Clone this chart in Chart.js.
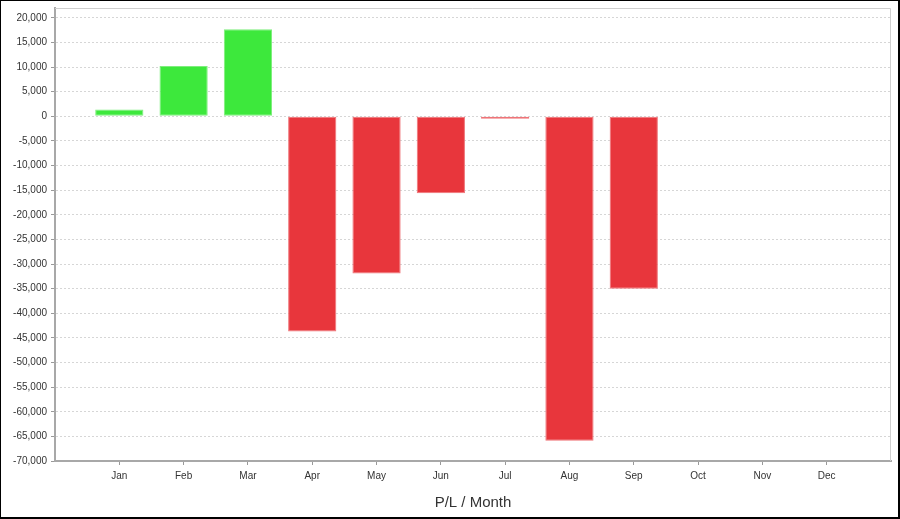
<!DOCTYPE html>
<html>
<head>
<meta charset="utf-8">
<script src="https://cdn.jsdelivr.net/npm/chart.js@4"></script>
<style>
  html, body { margin: 0; padding: 0; background: #fff; }
  #wrap {
    position: absolute; left: 0; top: 0;
    width: 900px; height: 519px;
    box-sizing: border-box;
    border: 1px solid #000;
    border-width: 1px 2px 2px 1px;
  }
</style>
</head>
<body>
<div id="wrap"><canvas id="chart"></canvas></div>
<script>
// data
const months = ['Jan', 'Feb', 'Mar', 'Apr', 'May', 'Jun', 'Jul', 'Aug', 'Sep', 'Oct', 'Nov', 'Dec'];
const profitLoss = [1400, 10200, 17700, -43700, -31900, -15600, -500, -65900, -35000, null, null, null];
const yTicks = [-70000, -65000, -60000, -55000, -50000, -45000, -40000, -35000, -30000,
    -25000, -20000, -15000, -10000, -5000, 0, 5000, 10000, 15000, 20000];
const yMin = -70000;
const yMax = 22000;

const GREEN = '#3de83c';
const RED = '#e8363c';

// pad the category axis by one empty slot at each end
const labels = [''].concat(months, ['']);
const values = [null].concat(profitLoss, [null]);

// light frame round the plot area (top and right)
const plotFrame = {
    id: 'plotFrame',
    beforeDatasetsDraw(chart) {
        const a = chart.chartArea;
        const ctx = chart.ctx;
        ctx.save();
        ctx.strokeStyle = '#cfcfcf';
        ctx.lineWidth = 1;
        ctx.beginPath();
        ctx.moveTo(a.left, a.top + 0.5);
        ctx.lineTo(a.right - 0.5, a.top + 0.5);
        ctx.lineTo(a.right - 0.5, a.bottom);
        ctx.stroke();
        ctx.restore();
    }
};

new Chart(document.getElementById('chart'), {
    type: 'bar',
    data: {
        labels: labels,
        datasets: [{
            label: 'P/L',
            data: values,
            backgroundColor: values.map(v => v >= 0 ? GREEN : RED),
            borderColor: values.map(v => v >= 0 ? '#7eee7c' : '#ef7478'),
            borderWidth: 1,
            borderSkipped: false,
            categoryPercentage: 1,
            barPercentage: 0.75
        }]
    },
    options: {
        responsive: true,
        maintainAspectRatio: false,
        animation: false,
        layout: { padding: { top: 7, right: 7, left: 0, bottom: 0 } },
        plugins: {
            legend: { display: false },
            tooltip: { enabled: false }
        },
        scales: {
            x: {
                offset: false,
                grid: {
                    offset: false,
                    drawOnChartArea: false,
                    tickLength: 4,
                    tickColor: c => (c.tick && c.tick.label === '') ? 'rgba(0,0,0,0)' : '#999'
                },
                border: { color: '#a8a8a8', width: 2 },
                ticks: {
                    autoSkip: false,
                    maxRotation: 0,
                    padding: 5,
                    color: '#333',
                    font: { family: 'Liberation Sans, Arial', size: 10 }
                },
                title: {
                    display: true,
                    text: 'P/L / Month',
                    color: '#333',
                    font: { family: 'Liberation Sans, Arial', size: 15 },
                    padding: { top: 0, bottom: 5 }
                },
                afterFit(scale) {
                    scale.height = 56;
                    scale.paddingLeft = 0;
                    scale.paddingRight = 0;
                }
            },
            y: {
                min: yMin,
                max: yMax,
                ticks: {
                    padding: 4,
                    color: '#333',
                    font: { family: 'Liberation Sans, Arial', size: 10 }
                },
                afterBuildTicks(scale) {
                    scale.ticks = yTicks.map(v => ({ value: v }));
                },
                grid: {
                    color: '#d6d6d6',
                    tickColor: '#999',
                    tickLength: 4
                },
                border: { color: '#a8a8a8', width: 2, dash: [2, 2] },
                afterFit(scale) {
                    scale.width = 54;
                    scale.paddingTop = 0;
                    scale.paddingBottom = 0;
                }
            }
        }
    },
    plugins: [plotFrame]
});
</script>
</body>
</html>
